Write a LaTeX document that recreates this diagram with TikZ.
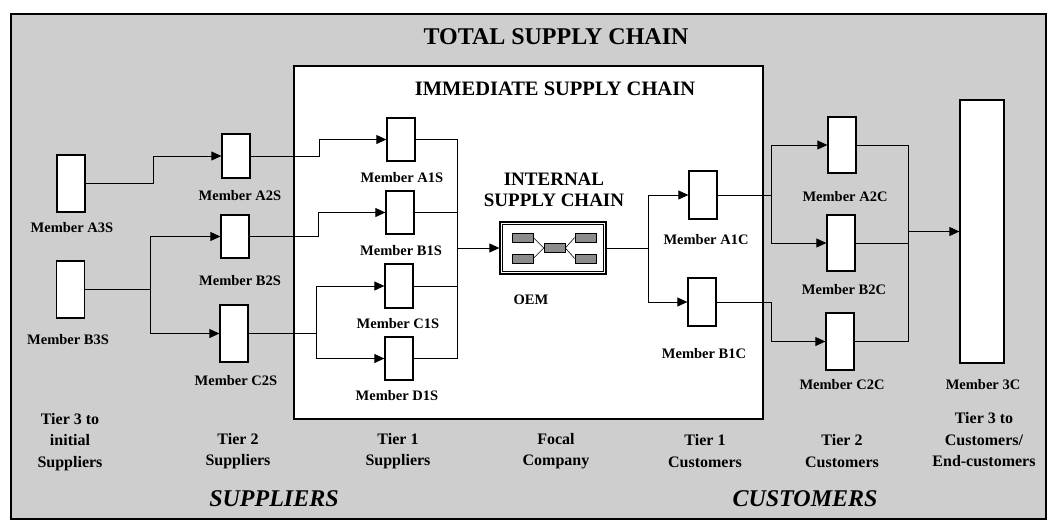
\documentclass[tikz,border=0pt]{standalone}
\usepackage{fontspec}
\setmainfont{Liberation Serif}
\usetikzlibrary{arrows.meta,calc}
\definecolor{bggray}{RGB}{206,206,206}
\definecolor{smallgray}{RGB}{140,140,140}
\tikzset{
  member/.style={draw, line width=1.3pt, fill=white, minimum width=28pt, inner sep=0pt},
  lbl/.style={font=\fontsize{14.5}{16}\selectfont\bfseries, inner sep=0pt},
  tier/.style={font=\fontsize{16}{21.5}\selectfont\bfseries, align=center, inner sep=0pt},
  conn/.style={line width=0.8pt},
  arr/.style={conn, -{Triangle[length=10pt,width=9pt]}},
  mini/.style={draw, line width=0.6pt, fill=smallgray, minimum width=21pt, minimum height=9pt, inner sep=0pt}
}
\begin{document}
\begin{tikzpicture}[x=1pt,y=-1pt]
\useasboundingbox (0,0) rectangle (1053,523);
% backgrounds
\draw[line width=1.2pt, fill=bggray] (11,14) rectangle (1046,519);
\draw[line width=1.2pt, fill=white] (294,66) rectangle (763,419);

\node[font=\fontsize{24}{28}\selectfont\bfseries] (title) at (556,37) {TOTAL SUPPLY CHAIN};
\node[font=\fontsize{20.5}{24}\selectfont\bfseries] (imm) at (555,89) {IMMEDIATE SUPPLY CHAIN};
\node[font=\fontsize{19}{21}\selectfont\bfseries, align=center] (int) at (554,190) {INTERNAL\\SUPPLY CHAIN};

% members
\node[member, minimum height=57pt] (A3S) at (71,183.5) {};
\node[member, minimum height=57pt] (B3S) at (70.5,289.5) {};
\node[member, minimum height=44pt] (A2S) at (236,156) {};
\node[member, minimum height=43pt] (B2S) at (235,236.5) {};
\node[member, minimum height=57pt] (C2S) at (234,333.5) {};
\node[member, minimum height=43pt] (A1S) at (401,139.5) {};
\node[member, minimum height=43pt] (B1S) at (400,212.5) {};
\node[member, minimum height=44pt] (C1S) at (399,286) {};
\node[member, minimum height=43pt] (D1S) at (399,358.5) {};
\node[member, minimum height=48pt] (A1C) at (703,195) {};
\node[member, minimum height=48pt] (B1C) at (702,302) {};
\node[member, minimum height=56pt] (A2C) at (842,145) {};
\node[member, minimum height=56pt] (B2C) at (841,243) {};
\node[member, minimum height=57pt] (C2C) at (840,341.5) {};
\node[member, minimum width=44pt, minimum height=263pt] (M3C) at (982,231.5) {};

% OEM
\node[draw, line width=1.3pt, fill=white, minimum width=106pt, minimum height=52pt, inner sep=0pt] (OEM) at (553,248) {};
\draw[line width=1pt] ($(OEM.north west)+(3.5,3.5)$) rectangle ($(OEM.south east)+(-3.5,-3.5)$);
\node[mini] (o1) at (522.5,237.5) {};
\node[mini] (o2) at (522.5,258.5) {};
\node[mini] (o3) at (554.5,248) {};
\node[mini] (o4) at (585.5,237.5) {};
\node[mini] (o5) at (585.5,258.5) {};
\draw[line width=0.6pt] (o1.east) -- (o3.west) -- (o2.east);
\draw[line width=0.6pt] (o4.west) -- (o3.east) -- (o5.west);

% labels
\node[lbl] (lA3S) at (72,228) {Member A3S};
\node[lbl] (lB3S) at (68,340) {Member B3S};
\node[lbl] (lA2S) at (240,196) {Member A2S};
\node[lbl] (lB2S) at (240,281) {Member B2S};
\node[lbl] (lC2S) at (236,381) {Member C2S};
\node[lbl] (lA1S) at (402,178) {Member A1S};
\node[lbl] (lB1S) at (401,251) {Member B1S};
\node[lbl] (lC1S) at (398,324) {Member C1S};
\node[lbl] (lD1S) at (397,396) {Member D1S};
\node[lbl] (lOEM) at (531,300) {OEM};
\node[lbl] (lA1C) at (706,240) {Member A1C};
\node[lbl] (lB1C) at (704,354) {Member B1C};
\node[lbl] (lA2C) at (845,197) {Member A2C};
\node[lbl] (lB2C) at (844,290) {Member B2C};
\node[lbl] (lC2C) at (842,385) {Member C2C};
\node[lbl] (l3C) at (983,385) {Member 3C};

% tier labels
\node[tier] (t1) at (70,442) {Tier 3 to\\initial\\Suppliers};
\node[tier] (t2) at (238,451) {Tier 2\\Suppliers};
\node[tier] (t3) at (398,451) {Tier 1\\Suppliers};
\node[tier] (t4) at (556,451) {Focal\\Company};
\node[tier] (t5) at (705,451) {Tier 1\\Customers};
\node[tier] (t6) at (842,451) {Tier 2\\Customers};
\node[tier] (t7) at (984,440) {Tier 3 to\\Customers/\\End-customers};
\node[font=\fontsize{24}{28}\selectfont\bfseries\itshape] (sup) at (274,499) {SUPPLIERS};
\node[font=\fontsize{24}{28}\selectfont\bfseries\itshape] (cus) at (805,499) {CUSTOMERS};

% junction columns
\coordinate (jA) at (153,0);
\coordinate (jB) at (150,0);
\coordinate (jC) at (319,0);
\coordinate (jD) at (318,0);
\coordinate (jE) at (316,0);
\coordinate (jF) at (457,0);
\coordinate (jG) at (648,0);
\coordinate (jH) at (771,0);
\coordinate (jI) at (908,0);

% tier 3 -> tier 2
\draw[arr] (A3S.east) -- (jA |- A3S.east) |- (A2S.west);
\draw[conn] (B3S.east) -- (jB |- B3S.east);
\draw[arr] (jB |- B3S.east) |- (B2S.west);
\draw[arr] (jB |- B3S.east) |- (C2S.west);
% tier 2 -> tier 1
\draw[arr] (A2S.east) -- (jC |- A2S.east) |- (A1S.west);
\draw[arr] (B2S.east) -- (jD |- B2S.east) |- (B1S.west);
\draw[conn] (C2S.east) -- (jE |- C2S.east);
\draw[arr] (jE |- C2S.east) |- (C1S.west);
\draw[arr] (jE |- C2S.east) |- (D1S.west);
% tier 1 -> OEM
\draw[conn] (A1S.east) -- (jF |- A1S.east) -- (jF |- D1S.east) -- (D1S.east);
\draw[conn] (B1S.east) -- (jF |- B1S.east);
\draw[conn] (C1S.east) -- (jF |- C1S.east);
\draw[arr] (jF |- OEM.west) -- (OEM.west);
% OEM -> tier 1 customers
\draw[conn] (OEM.east) -- (jG |- OEM.east);
\draw[arr] (jG |- OEM.east) |- (A1C.west);
\draw[arr] (jG |- OEM.east) |- (B1C.west);
% tier 1 -> tier 2 customers
\draw[conn] (A1C.east) -- (jH |- A1C.east);
\draw[arr] (jH |- A1C.east) |- (A2C.west);
\draw[arr] (jH |- A1C.east) |- (B2C.west);
\draw[arr] (B1C.east) -- (jH |- B1C.east) |- (C2C.west);
% tier 2 -> 3C
\draw[conn] (A2C.east) -- (jI |- A2C.east) -- (jI |- C2C.east) -- (C2C.east);
\draw[conn] (B2C.east) -- (jI |- B2C.east);
\draw[arr] (jI |- M3C.west) -- (M3C.west);
\end{tikzpicture}
\end{document}
